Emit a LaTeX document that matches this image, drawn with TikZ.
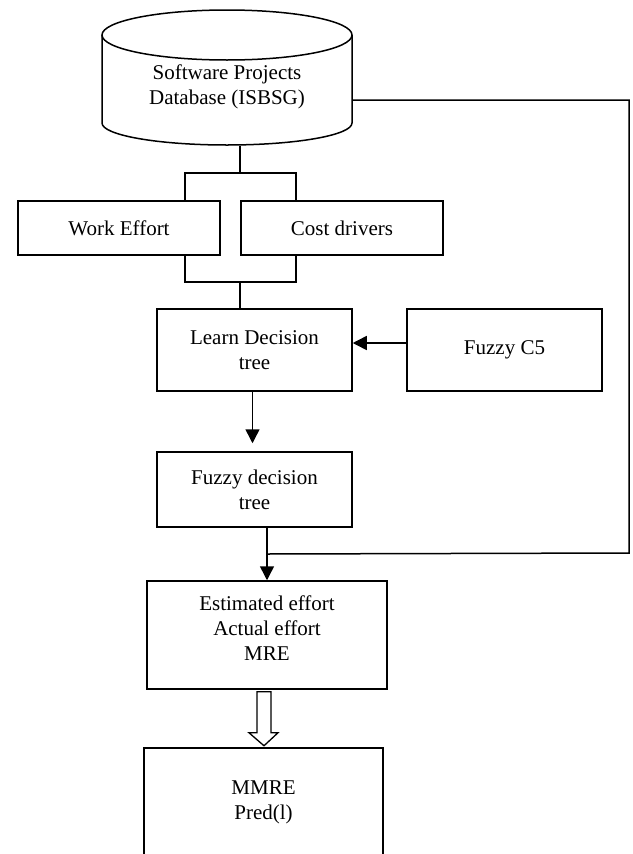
\documentclass[tikz,border=0pt]{standalone}
\usepackage{fontspec}
\setmainfont{Liberation Serif}
\usetikzlibrary{arrows.meta,calc}
\begin{document}
\begin{tikzpicture}[x=1pt,y=-1pt,
  line width=1.5pt,
  box/.style={draw,rectangle,inner sep=0pt,line width=1.5pt},
  lbl/.style={align=center,font=\fontsize{21}{25}\selectfont,inner sep=0pt},
  arr/.style={-{Triangle[width=14pt,length=14pt]}}]
\useasboundingbox (0,0) rectangle (632,854);
\clip (0,0) rectangle (632,854);

% database cylinder
\node[lbl, minimum width=250pt, minimum height=116pt] (db) at (227,87) {Software Projects\\Database (ISBSG)};
\draw (102,35) -- (102,123) arc[start angle=180,end angle=0,x radius=125,y radius=22] -- (352,35);
\draw (227,35) ellipse [x radius=125, y radius=25];

% boxes
\node[box, lbl, minimum width=202pt, minimum height=54pt] (we) at (119,228) {Work Effort};
\node[box, lbl, minimum width=202pt, minimum height=54pt] (cd) at (342,228) {Cost drivers};
\node[box, lbl, minimum width=195pt, minimum height=82pt] (ldt) at (254.5,350) {Learn Decision\\tree};
\node[box, lbl, minimum width=195pt, minimum height=82pt] (fc5) at (504.5,350) {Fuzzy C5};
\node[box, lbl, minimum width=195pt, minimum height=75pt] (fdt) at (254.5,489.5) {Fuzzy decision\\tree};
\node[box, minimum width=240pt, minimum height=108pt] (est) at (267,635) {};
\node[lbl] (esttxt) at (267,628) {Estimated effort\\Actual effort\\MRE};
\node[box, minimum width=239pt, minimum height=140pt, anchor=north] (mm) at (263.5,747) {};
\node[lbl] (mmtxt) at (263.5,802) {MMRE\\Pred(l)};

% brackets
\coordinate (t0) at (240,173);
\coordinate (tl) at (185,173);
\coordinate (tr) at (296,173);
\coordinate (b0) at (240,282);
\coordinate (bl) at (185,282);
\coordinate (br) at (296,282);
\draw (db.south -| t0) -- (t0);
\draw (we.north -| tl) -- (tl) -- (tr) -- (cd.north -| tr);
\draw (we.south -| bl) -- (bl) -- (br) -- (cd.south -| br);
\draw (b0) -- (ldt.north -| b0);

% arrows
\draw[arr] ($(fc5.west)+(0,-7)$) -- ($(ldt.east)+(0,-7)$);
\draw[arr, shorten >=8pt] ($(ldt.south)+(-2,0)$) -- ($(fdt.north)+(-2,0)$);
\draw[arr] (fdt.south -| est.north) -- (est.north);

% feedback line
\coordinate (rc) at (629,553);
\coordinate (join) at ($(fdt.south -| est.north)!0.5!(est.north)$);
\draw ($(db.east)+(0,13)$) -| (rc) -- (join);

% hollow arrow
\begin{scope}[shift={(est.south)}]
\draw[fill=white, line width=1.3pt] (-10,2) -- (4,2) -- (4,43) -- (11,43) -- (-3,56) -- (-18,43) -- (-10,43) -- cycle;
\end{scope}
\end{tikzpicture}
\end{document}
